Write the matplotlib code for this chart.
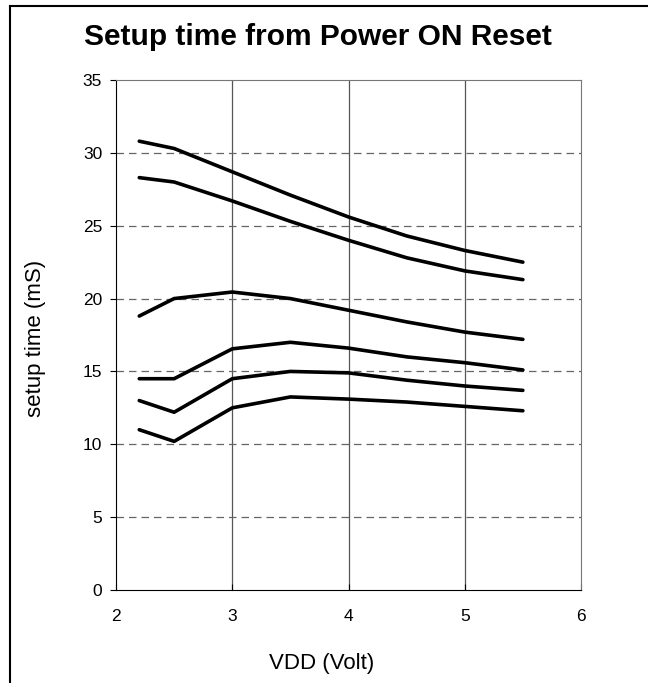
import numpy as np
import matplotlib.pyplot as plt
from matplotlib.lines import Line2D

plt.rcParams['font.family'] = ['Liberation Sans', 'DejaVu Sans']

vdd = [2.2, 2.5, 3.0, 3.5, 4.0, 4.5, 5.0, 5.5]
curve1 = [30.8, 30.3, 28.7, 27.1, 25.6, 24.3, 23.3, 22.5]
curve2 = [28.3, 28.0, 26.7, 25.3, 24.0, 22.8, 21.9, 21.3]
curve3 = [18.8, 20.0, 20.45, 20.0, 19.2, 18.4, 17.7, 17.2]
curve4 = [14.5, 14.5, 16.55, 17.0, 16.6, 16.0, 15.6, 15.1]
curve5 = [13.0, 12.2, 14.5, 15.0, 14.9, 14.4, 14.0, 13.7]
curve6 = [11.0, 10.2, 12.5, 13.25, 13.1, 12.9, 12.6, 12.3]

W, H = 648, 683
fig = plt.figure(figsize=(W / 100, H / 100), dpi=100)
ax = fig.add_axes([116 / W, 1 - 590 / H, (581 - 116) / W, (590 - 80) / H])

# grid: solid verticals, dashed horizontals
for x in [3, 4, 5]:
    ax.axvline(x, color='#555555', lw=0.9, zorder=1)
for y in [5, 10, 15, 20, 25, 30]:
    ax.axhline(y, color='#666666', lw=0.9, ls=(0, (6, 4)), zorder=1)

for c in [curve1, curve2, curve3, curve4, curve5, curve6]:
    ax.plot(vdd, c, color='black', lw=2.6, solid_capstyle='round',
            solid_joinstyle='round', zorder=3)

ax.set_xlim(2, 6)
ax.set_ylim(0, 35)
ax.set_xticks([2, 3, 4, 5, 6])
ax.set_yticks(range(0, 36, 5))
ax.spines['left'].set_color('black')
ax.spines['bottom'].set_color('black')
ax.spines['top'].set_color('#777777')
ax.spines['right'].set_color('#777777')
ax.tick_params(axis='y', direction='out', length=4, labelsize=12.5, pad=6)
ax.tick_params(axis='x', direction='in', length=4, labelsize=12.5, pad=14)

# axis labels and title placed in figure pixels
fig.text(322 / W, 1 - 663 / H, 'VDD (Volt)', ha='center', va='center', fontsize=16)
fig.text(36 / W, 1 - 338 / H, 'setup time (mS)', ha='center', va='center',
         rotation=90, fontsize=16)
fig.text(318 / W, 1 - 37 / H, 'Setup time from Power ON Reset',
         ha='center', va='center', fontsize=21.5, fontweight='bold')

# outer frame
fig.add_artist(Line2D([10 / W, 10 / W], [0, 1 - 6 / H], color='black', lw=1.5,
                      transform=fig.transFigure))
fig.add_artist(Line2D([10 / W, 1], [1 - 6 / H, 1 - 6 / H], color='black', lw=1.5,
                      transform=fig.transFigure))

fig.savefig('out.png', dpi=100)
